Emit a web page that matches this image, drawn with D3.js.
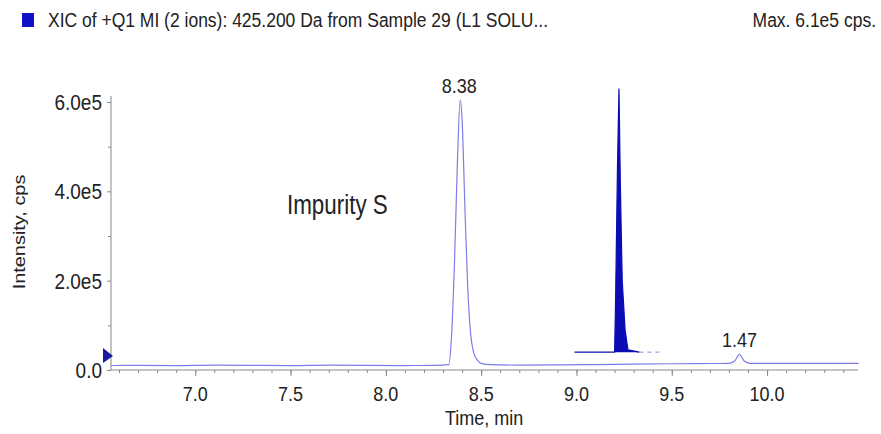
<!DOCTYPE html>
<html>
<head>
<meta charset="utf-8">
<script src="https://cdn.jsdelivr.net/npm/d3@7"></script>
<style>
  body { margin: 0; background: #fff; }
  svg text { font-family: "Liberation Sans", Arial, sans-serif; fill: #222; }
</style>
</head>
<body>
<div id="container"></div>
<script>
// XIC trace, time in min, intensity in cps
const times = [6.56, 6.7, 6.9, 7.1, 7.3, 7.5, 7.7, 7.9, 8.1, 8.25, 8.33,
  8.345, 8.36, 8.375, 8.39, 8.40, 8.415, 8.43, 8.445, 8.46, 8.48, 8.5,
  8.55, 8.7, 8.9, 9.1, 9.3, 9.5, 9.7, 9.8, 9.83, 9.855, 9.88, 9.91,
  10.0, 10.2, 10.48];
const intensity = [10000, 10500, 10000, 11000, 10500, 10000, 11000, 10500, 10000, 10500, 12000,
  80000, 240000, 460000, 605000, 560000, 360000, 180000, 80000, 40000, 22000, 15000,
  12000, 11000, 11500, 12000, 13000, 14000, 14500, 15000, 20000, 35000, 20000, 15000,
  15000, 15000, 15000];

// overlaid inset trace (filled spike)
const insetTimes = [8.99, 9.15, 9.2, 9.205, 9.215, 9.223, 9.23, 9.24, 9.255, 9.27, 9.33];
const insetIntensity = [40000, 40000, 40000, 150000, 450000, 630000, 420000, 200000, 90000, 45000, 40000];

const xTicks = [7.0, 7.5, 8.0, 8.5, 9.0, 9.5, 10.0];
const yTicks = [0, 200000, 400000, 600000];
const peakLabels = [{ t: 8.385, v: 605000, text: "8.38" }, { t: 9.855, v: 35000, text: "1.47" }];

const width = 881, height = 434;
const svg = d3.select("#container").append("svg")
  .attr("width", width).attr("height", height);

const x = d3.scaleLinear().domain([6.558, 10.477]).range([111, 858]);
const y = d3.scaleLinear().domain([0, 600000]).range([370, 102]);

// text is a bit tall and narrow in the original, stretch it vertically
function txt(px, py, s, size, anchor, sy) {
  return svg.append("text")
    .attr("transform", `translate(${px},${py}) scale(1,${sy || 1.15})`)
    .attr("font-size", size).attr("text-anchor", anchor || "start").text(s);
}

// header
svg.append("rect").attr("x", 22).attr("y", 13).attr("width", 12).attr("height", 14).attr("fill", "#1010c8");
txt(48, 27, "XIC of +Q1 MI (2 ions): 425.200 Da from Sample 29 (L1 SOLU...", 17.5, "start", 1.2);
txt(876, 27, "Max. 6.1e5 cps.", 17.5, "end", 1.2);

// axes
const xAxis = svg.append("g").attr("transform", "translate(0,370)")
  .call(d3.axisBottom(x).tickValues(xTicks).tickFormat("").tickSize(6));
svg.append("g").attr("transform", "translate(0,370)")
  .call(d3.axisBottom(x).tickValues(d3.range(66, 105).map(d => d / 10)).tickFormat("").tickSize(3))
  .select(".domain").remove();
const yAxis = svg.append("g").attr("transform", "translate(111,0)")
  .call(d3.axisLeft(y).tickValues(yTicks).tickFormat("").tickSize(4));
svg.append("g").attr("transform", "translate(111,0)")
  .call(d3.axisLeft(y).tickValues([100000, 300000, 500000]).tickFormat("").tickSize(3))
  .select(".domain").remove();
svg.selectAll(".domain").attr("stroke", "#888");
svg.selectAll(".tick line").attr("stroke", "#888");
yAxis.select(".domain").attr("d", "M0,370V96");
xAxis.select(".domain").attr("d", "M111,0H858");

xTicks.forEach(t => txt(x(t), 401, t.toFixed(1), 18, "middle").attr("fill", "#333"));
yTicks.forEach(v => txt(102, y(v) + 8, v === 0 ? "0.0" : (v / 1e5).toFixed(1) + "e5", 19, "end").attr("fill", "#333"));

txt(484, 425, "Time, min", 18, "middle").attr("fill", "#333");
svg.append("text").attr("transform", "translate(25,232) scale(1,1.2) rotate(-90)").attr("font-size", 16.6)
  .attr("text-anchor", "middle").attr("fill", "#444").text("Intensity, cps");

// start marker
svg.append("path").attr("d", "M103,348L113,356L103,363Z").attr("fill", "#1a1aa0");

// inset spike
const insetPts = insetTimes.map((t, i) => [t, insetIntensity[i]]);
svg.append("path").datum(insetPts)
  .attr("d", d3.area().x(d => x(d[0])).y0(y(40000)).y1(d => y(d[1])))
  .attr("fill", "#0c0cb4");
svg.append("path").datum(insetPts)
  .attr("d", d3.line().x(d => x(d[0])).y(d => y(d[1])))
  .attr("fill", "none").attr("stroke", "#0c0cb4").attr("stroke-width", 1.2);
svg.append("line").attr("x1", x(9.33)).attr("x2", x(9.45)).attr("y1", y(40000)).attr("y2", y(40000))
  .attr("stroke", "#8888dd").attr("stroke-dasharray", "4,4");

// main trace
const pts = times.map((t, i) => [t, intensity[i]]);
svg.append("path").datum(pts)
  .attr("d", d3.line().x(d => x(d[0])).y(d => y(d[1])).curve(d3.curveMonotoneX))
  .attr("fill", "none").attr("stroke", "#7d7de6").attr("stroke-width", 1.2);

// labels
peakLabels.forEach(d => txt(x(d.t), y(d.v) - 7, d.text, 18, "middle"));
txt(287, 214, "Impurity S", 22.4, "start", 1.25);
</script>
</body>
</html>
